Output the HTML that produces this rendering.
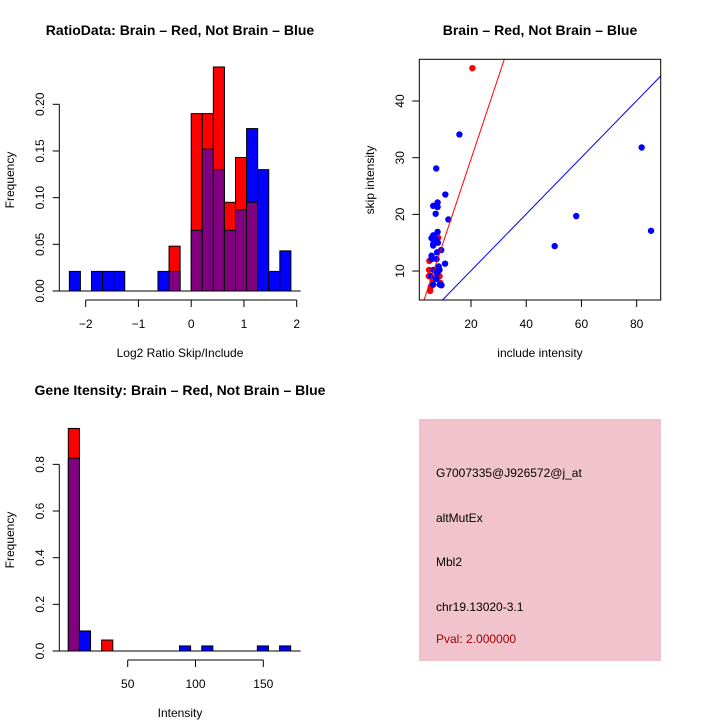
<!DOCTYPE html>
<html><head><meta charset="utf-8"><style>
html,body{margin:0;padding:0;background:#fff;}
svg{display:block;font-family:"Liberation Sans",Arial,sans-serif;}
</style></head><body>
<svg id="c" width="720" height="720" viewBox="0 0 720 720" xmlns="http://www.w3.org/2000/svg">
<rect width="720" height="720" fill="#fff"/>
<g id="p1"></g>
<g id="p2"></g>
<g id="p3"></g>
<g id="p4">
<rect x="419" y="419" width="242" height="242" fill="#f1c3cd"/>
<text x="436" y="477" font-size="12" fill="#000">G7007335@J926572@j_at</text>
<text x="436" y="522" font-size="12" fill="#000">altMutEx</text>
<text x="436" y="566" font-size="12" fill="#000">Mbl2</text>
<text x="436" y="611" font-size="12" fill="#000">chr19.13020-3.1</text>
<text x="436" y="643" font-size="12" fill="#a00000">Pval: 2.000000</text>
</g>
</svg>
<script>
// ---- Ratio histogram data ----
const ratioBreakStart = -2.31;
const ratioBinWidth = 0.21;
const ratioRed  = [0,0,0,0,0,0,0,0,0,0.048,0,0.19,0.19,0.24,0.095,0.143,0.095,0,0,0];
const ratioBlue = [0.021,0,0.021,0.021,0.021,0,0,0,0.021,0.021,0,0.065,0.152,0.13,0.065,0.087,0.174,0.13,0.021,0.043];
const ratioXTicks = [-2,-1,0,1,2];
const ratioYTicks = [0,0.05,0.10,0.15,0.20];
const ratioYLabels = ["0.00","0.05","0.10","0.15","0.20"];

// ---- Scatter data ----
const blueInclude = [15.8,7.4,10.7,7.9,6.3,7.9,7.2,11.8,7.9,6.3,5.7,7.5,6.3,8.0,6.3,9.2,7.7,5.7,5.7,7.5,10.6,8.3,6.4,8.6,7.7,5.5,7.5,6.3,9.3,8.7,50.3,58.1,81.8,85.2];
const blueSkip    = [34.1,28.1,23.5,22.1,21.5,21.3,20.1,19.1,16.9,16.3,15.8,15.6,14.8,15.0,14.5,13.7,13.3,12.7,12.1,12.1,11.3,10.8,10.2,10.2,9.6,9.1,8.6,7.6,7.5,7.6,14.4,19.7,31.8,17.1];
const redInclude  = [20.5,8.1,4.9,4.8,4.7,5.4,5.2,8.6,8.9,7.7,6.1];
const redSkip     = [45.8,15.9,11.8,10.2,9.1,7.2,6.5,9.1,7.9,8.9,8.4];
const redFit  = [1.46,0.55];
const blueFit = [0.5,0.06];
const scatterXTicks = [20,40,60,80];
const scatterYTicks = [10,20,30,40];

// ---- Intensity histogram data ----
const intBreakStart = 6.2;
const intBinWidth = 8.2;
const intRed  = [0.954,0,0,0.047,0,0,0,0,0,0,0,0,0,0,0,0,0,0,0,0];
const intBlue = [0.826,0.086,0,0,0,0,0,0,0,0,0.0217,0,0.0217,0,0,0,0,0.0217,0,0.0217];
const intXTicks = [50,100,150];
const intYTicks = [0,0.2,0.4,0.6,0.8];
const intYLabels = ["0.0","0.2","0.4","0.6","0.8"];

const NS = "http://www.w3.org/2000/svg";
function mk(parent, tag, attrs, txt){
  const e = document.createElementNS(NS, tag);
  for (const k in attrs) e.setAttribute(k, attrs[k]);
  if (txt !== undefined) e.textContent = txt;
  parent.appendChild(e);
  return e;
}
const PURPLE = "#800080";

function histogram(g, o){
  const sx = v => o.x0 + (v - o.xv0) * o.kx;
  const sy = v => o.y0 - v * o.ky;
  const n = o.red.length;
  for (let i=0;i<n;i++){
    const a = sx(o.start + i*o.w), b = sx(o.start + (i+1)*o.w);
    const r = o.red[i], bl = o.blue[i];
    const mx = Math.max(r,bl), mn = Math.min(r,bl);
    if (mx<=0) continue;
    let e = mk(g,"rect",{x:a,y:sy(mx),width:b-a,height:sy(0)-sy(mx),fill:(r>=bl?"#ff0000":"#0000ff"),stroke:"#000","stroke-width":1});
    
    
    if (mn>0){
      e = mk(g,"rect",{x:a,y:sy(mn),width:b-a,height:sy(0)-sy(mn),fill:PURPLE,stroke:"#000","stroke-width":1});
      
      
    }
  }
  // baseline
  let e = mk(g,"line",{x1:52.7,x2:300.7,y1:sy(0),y2:sy(0),stroke:"#000","stroke-width":1});
  
  
  // y axis
  const ya = mk(g,"g",{});
  
  
  const yt = o.yTicks;
  mk(ya,"line",{x1:59.3,x2:59.3,y1:sy(yt[0]),y2:sy(yt[yt.length-1]),stroke:"#000"});
  yt.forEach((v,i)=>{
    mk(ya,"line",{x1:52.7,x2:59.3,y1:sy(v),y2:sy(v),stroke:"#000"});
    const t = mk(ya,"text",{x:0,y:0,"font-size":12,"text-anchor":"middle",transform:`translate(44,${sy(v)}) rotate(-90)`},o.yLabels[i]);
    
    
  });
  // x axis
  const xa = mk(g,"g",{});
  
  
  const xt = o.xTicks;
  mk(xa,"line",{x1:sx(xt[0]),x2:sx(xt[xt.length-1]),y1:o.axY,y2:o.axY,stroke:"#000"});
  xt.forEach(v=>{
    mk(xa,"line",{x1:sx(v),x2:sx(v),y1:o.axY,y2:o.axY+7,stroke:"#000"});
    const t = mk(xa,"text",{x:sx(v),y:o.axY+28,"font-size":12,"text-anchor":"middle"},String(v).replace('-','\u2212'));
    
    
  });
  let t = mk(g,"text",{x:180,y:o.xlabY,"font-size":12,"text-anchor":"middle"},o.xlab);
  
  
  t = mk(g,"text",{x:0,y:0,"font-size":12,"text-anchor":"middle",transform:`translate(14,${o.ylabY}) rotate(-90)`},"Frequency");
  
  
  t = mk(g,"text",{x:o.titleX,y:o.titleY,"font-size":14,"font-weight":"bold","text-anchor":"middle"},o.title);
  
  
}

histogram(document.getElementById("p1"),{
  x0:191.2,xv0:0,kx:52.75,y0:291,ky:933.5,start:ratioBreakStart,w:ratioBinWidth,
  red:ratioRed,blue:ratioBlue,xTicks:ratioXTicks,yTicks:ratioYTicks,yLabels:ratioYLabels,
  axY:300,xlab:"Log2 Ratio Skip/Include",xlabY:357,ylabY:180,
  title:"RatioData: Brain \u2013 Red, Not Brain \u2013 Blue",titleX:180,titleY:35
});
histogram(document.getElementById("p3"),{
  x0:59.9,xv0:0,kx:1.356,y0:651,ky:233.3,start:intBreakStart,w:intBinWidth,
  red:intRed,blue:intBlue,xTicks:intXTicks,yTicks:intYTicks,yLabels:intYLabels,
  axY:660,xlab:"Intensity",xlabY:717,ylabY:540,
  title:"Gene Itensity: Brain \u2013 Red, Not Brain \u2013 Blue",titleX:180,titleY:395
});

// ---- Scatter ----
(function(){
  const g = document.getElementById("p2");
  const L=419.3,R=660.7,T=59.3,B=300;
  const sx = v => 415.8 + v*2.761;
  const sy = v => 327.7 - v*5.667;
  const xMin=(L-415.8)/2.761, xMax=(R-415.8)/2.761;
  const yMin=(327.7-B)/5.667, yMax=(327.7-T)/5.667;
  mk(g,"clipPath",{id:"clip"}).appendChild(Object.assign(document.createElementNS(NS,"rect"),{}));
  const cr = g.querySelector("#clip rect");
  cr.setAttribute("x",L);cr.setAttribute("y",T);cr.setAttribute("width",R-L);cr.setAttribute("height",B-T);
  const pg = mk(g,"g",{"clip-path":"url(#clip)"});
  
  
  redInclude.forEach((x,i)=>{
    const c = mk(pg,"circle",{cx:sx(x),cy:sy(redSkip[i]),r:3.2,fill:"#ff0000"});
    
    
  });
  blueInclude.forEach((x,i)=>{
    const c = mk(pg,"circle",{cx:sx(x),cy:sy(blueSkip[i]),r:3.2,fill:"#0000ff"});
    
    
  });
  let l = mk(pg,"line",{x1:sx(xMin),y1:sy(redFit[0]*xMin+redFit[1]),x2:sx(xMax),y2:sy(redFit[0]*xMax+redFit[1]),stroke:"#ff0000","stroke-width":1});
  
  
  l = mk(pg,"line",{x1:sx(xMin),y1:sy(blueFit[0]*xMin+blueFit[1]),x2:sx(xMax),y2:sy(blueFit[0]*xMax+blueFit[1]),stroke:"#0000ff","stroke-width":1});
  
  
  const box = mk(g,"rect",{x:L,y:T,width:R-L,height:B-T,fill:"none",stroke:"#000","stroke-width":1});
  
  
  scatterXTicks.forEach(v=>{
    mk(g,"line",{x1:sx(v),x2:sx(v),y1:B,y2:B+7,stroke:"#000"});
    const t = mk(g,"text",{x:sx(v),y:B+28,"font-size":12,"text-anchor":"middle"},String(v));
    
    
  });
  scatterYTicks.forEach(v=>{
    mk(g,"line",{x1:L-7,x2:L,y1:sy(v),y2:sy(v),stroke:"#000"});
    const t = mk(g,"text",{x:0,y:0,"font-size":12,"text-anchor":"middle",transform:`translate(404,${sy(v)}) rotate(-90)`},String(v));
    
    
  });
  let t = mk(g,"text",{x:540,y:357,"font-size":12,"text-anchor":"middle"},"include intensity");
  
  
  t = mk(g,"text",{x:0,y:0,"font-size":12,"text-anchor":"middle",transform:"translate(374,180) rotate(-90)"},"skip intensity");
  
  
  t = mk(g,"text",{x:540,y:35,"font-size":14,"font-weight":"bold","text-anchor":"middle"},"Brain \u2013 Red, Not Brain \u2013 Blue");
  
  
})();
</script>
</body></html>
